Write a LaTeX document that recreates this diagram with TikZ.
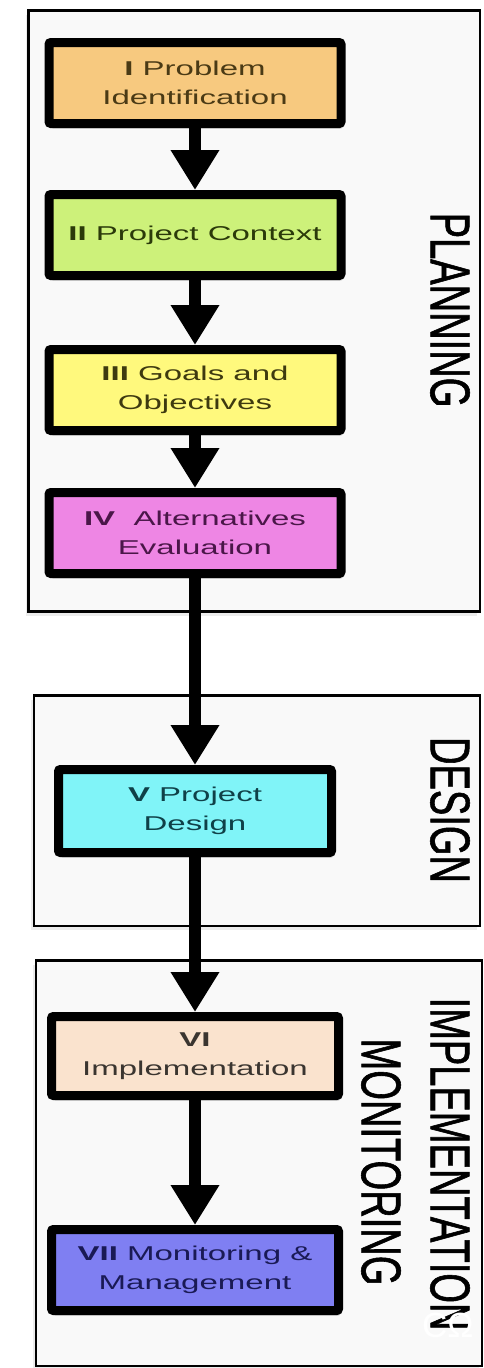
\documentclass[tikz,border=0pt]{standalone}
\usepackage{fontspec}
\setmainfont{Liberation Sans}
\newfontfamily\boxfont[FakeStretch=1.65]{Liberation Sans}
\newfontfamily\sidefont[FakeStretch=0.68,FakeBold=1]{Liberation Sans}
\usetikzlibrary{arrows.meta,shadows}
\definecolor{fI}{HTML}{F7C97F}
\definecolor{fII}{HTML}{CDF17A}
\definecolor{fIII}{HTML}{FFF97D}
\definecolor{fIV}{HTML}{EE86E4}
\definecolor{fV}{HTML}{80F4F8}
\definecolor{fVI}{HTML}{FAE3CE}
\definecolor{fVII}{HTML}{7F7FF2}
\definecolor{tI}{HTML}{4A3A15}
\definecolor{tII}{HTML}{2B3A0A}
\definecolor{tIII}{HTML}{3E3A10}
\definecolor{tIV}{HTML}{4A1648}
\definecolor{tV}{HTML}{0F4048}
\definecolor{tVI}{HTML}{3A3530}
\definecolor{tVII}{HTML}{1A1A55}
\definecolor{framefill}{HTML}{F9F9F9}
\tikzset{
  stepbox/.style={draw=black, line width=9pt, rounded corners=2pt,
    minimum width=292pt, minimum height=81pt, inner sep=0pt,
    align=center, font=\boxfont\fontsize{20}{29}\selectfont,
    drop shadow={opacity=0.35, shadow xshift=2pt, shadow yshift=-5pt}},
  phaseframe/.style={draw=black, line width=2.5pt, fill=framefill,
    drop shadow={opacity=0.15, shadow xshift=-3pt, shadow yshift=-4pt}},
  phaselabel/.style={rotate=-90, inner sep=0pt,
    font=\sidefont\fontsize{56}{69}\selectfont},
  flow/.style={line width=12pt, -{Triangle[width=46pt,length=40pt]}}
}
\begin{document}
\begin{tikzpicture}[x=1pt,y=1pt]
\useasboundingbox[fill=white] (0,0) rectangle (484,-1368);
% phase frames
\draw[phaseframe] (28.5,-10.5) rectangle (480,-611.5);
\draw[phaseframe] (34,-695.5) rectangle (480,-926);
\draw[phaseframe] (36,-960.5) rectangle (482,-1366);
% labels
\node[phaselabel] (plan) at (450,-310) {PLANNING};
\node[phaselabel] (des) at (450,-810) {DESIGN};
\node[phaselabel] (impl) at (450,-1164) {IMPLEMENTATION};
\node[phaselabel] (mon) at (381,-1162) {MONITORING};
% steps
\node[stepbox, fill=fI, text=tI] (s1) at (195,-83) {\textbf{I} Problem\\Identification};
\node[stepbox, fill=fII, text=tII] (s2) at (195,-235) {\textbf{II} Project Context};
\node[stepbox, fill=fIII, text=tIII] (s3) at (195,-390) {\textbf{III} Goals and\\Objectives};
\node[stepbox, fill=fIV, text=tIV] (s4) at (195,-533) {\textbf{IV}\ \ Alternatives\\Evaluation};
\node[stepbox, fill=fV, text=tV, minimum width=273pt, minimum height=83pt] (s5) at (195,-811) {\textbf{V} Project\\Design};
\node[stepbox, fill=fVI, text=tVI, minimum width=287pt, minimum height=79pt] (s6) at (195,-1056) {\textbf{VI}\\Implementation};
\node[stepbox, fill=fVII, text=tVII, minimum width=287pt, minimum height=81pt] (s7) at (195,-1270) {\textbf{VII} Monitoring \&\\Management};
% connectors
\draw[flow] (s1.south) -- (s2.north);
\draw[flow] (s2.south) -- (s3.north);
\draw[flow] (s3.south) -- (s4.north);
\draw[flow] (s4.south) -- (s5.north);
\draw[flow] (s5.south) -- (s6.north);
\draw[flow] (s6.south) -- (s7.north);
% watermark
\node[anchor=base west, inner sep=0pt, text=white, font=\fontsize{35}{35}\selectfont] (wm) at (422,-1337) {CΩ};
\end{tikzpicture}
\end{document}
